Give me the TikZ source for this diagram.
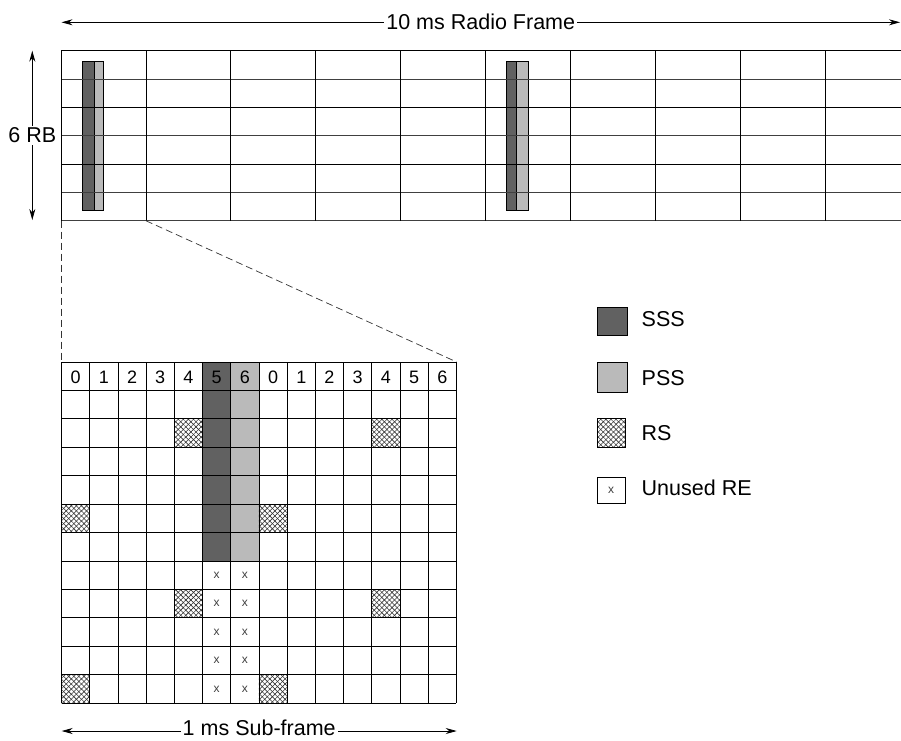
\documentclass[tikz,border=0pt]{standalone}
\usepackage{fontspec}
\setmainfont{Liberation Sans}
\usetikzlibrary{arrows.meta,patterns.meta}
\begin{document}
\begin{tikzpicture}[x=1pt,y=-1pt,
  gridline/.style={line width=0.8pt, black},
  softline/.style={line width=0.7pt, black!75},
  sss/.style={fill=black!62, draw=black, line width=0.6pt},
  pss/.style={fill=black!27, draw=black, line width=0.6pt},
  hatchA/.style={pattern={Lines[angle=45,distance=3.6pt,line width=0.6pt]}, pattern color=black!80},
  hatchB/.style={pattern={Lines[angle=-45,distance=3.6pt,line width=0.6pt]}, pattern color=black!80},
  lbl/.style={font=\fontsize{21.5}{24}\selectfont, inner xsep=2pt, inner ysep=0pt, fill=white},
  leg/.style={font=\fontsize{21.5}{24}\selectfont, inner sep=0pt},
  dig/.style={font=\fontsize{18}{20}\selectfont, inner sep=0pt},
  unused/.style={font=\fontsize{12}{12}\selectfont, text=black!75, inner sep=0pt},
  dim/.style={line width=0.8pt, {Stealth[length=11pt,width=6pt]}-{Stealth[length=11pt,width=6pt]}},
  zoomline/.style={dash pattern=on 7pt off 4pt, line width=0.7pt, black!80}
]
\useasboundingbox (0,0) rectangle (901,740);

% ---------- upper grid (radio frame) ----------
\draw[sss] (82.3,61) rectangle (94,210);
\draw[pss] (94,61) rectangle (103.7,210);
\draw[sss] (506,61) rectangle (516.7,210);
\draw[pss] (516.7,61) rectangle (528.3,210);
\foreach \i in {0,2,4}
  \draw[gridline] (61,50.7+\i*28.33) -- (901,50.7+\i*28.33);
\foreach \i in {1,3,5,6}
  \draw[softline] (61,50.7+\i*28.33) -- (901,50.7+\i*28.33);
\foreach \i in {0,...,9}
  \draw[gridline] (61+\i*84.9,50.7) -- (61+\i*84.9,220.7);

% ---------- dimension arrows ----------
\coordinate (rfL) at (61.5,22.3);
\coordinate (rfR) at (900,22.3);
\draw[dim] (rfL) -- node[lbl] (rfLabel) {10 ms Radio Frame} (rfR);

\coordinate (rbT) at (32.3,50.7);
\coordinate (rbB) at (32.3,220);
\draw[dim] (rbT) -- node[lbl, inner xsep=1pt, inner ysep=2pt] (rbLabel) {6 RB} (rbB);

\coordinate (sfL) at (61.7,731);
\coordinate (sfR) at (456.7,731);
\draw[dim] (sfL) -- node[lbl, yshift=3.5pt] (sfLabel) {1 ms Sub-frame} (sfR);

% ---------- zoom lines ----------
\coordinate (zA) at (61,220.7);
\coordinate (zB) at (61,362);
\coordinate (zC) at (145.9,220.7);
\coordinate (zD) at (456.7,362);
\draw[zoomline] (zA) -- (zB);
\draw[zoomline] (zC) -- (zD);

% ---------- lower grid (sub-frame) ----------
\fill[black!62] (61.5+5*28.21,362) rectangle (61.5+6*28.21,362+7*28.43);
\fill[black!27] (61.5+6*28.21,362) rectangle (61.5+7*28.21,362+7*28.43);
\foreach \c/\r in {4/2,11/2,0/5,7/5,4/8,11/8,0/11,7/11}{
  \fill[hatchA] (61.5+\c*28.21,362+\r*28.43) rectangle ++(28.21,28.43);
  \fill[hatchB] (61.5+\c*28.21,362+\r*28.43) rectangle ++(28.21,28.43);
}
\foreach \c in {5,6}
  \foreach \r in {7,...,11}
    \node[unused] (u\c-\r) at (61.5+\c*28.21+14.1,362+\r*28.43+14.2) {x};
\foreach \i in {0,...,14}
  \draw[gridline] (61.5+\i*28.21,362) -- (61.5+\i*28.21,703.2);
\foreach \j in {0,...,12}
  \draw[gridline] (61.5,362+\j*28.43) -- (456.44,362+\j*28.43);
\foreach \c in {0,...,13}{
  \pgfmathtruncatemacro{\d}{mod(\c,7)}
  \node[dig] (h\c) at (61.5+\c*28.21+14.1,377) {\d};
}

% ---------- legend ----------
\draw[sss] (597,307) rectangle (627,335);
\draw[pss] (597,362) rectangle (627,392);
\fill[hatchA] (597,418) rectangle (625,447);
\fill[hatchB] (597,418) rectangle (625,447);
\draw[line width=0.6pt] (597,418) rectangle (625,447);
\draw[line width=0.6pt] (597,477) rectangle (625,503);
\node[unused] (kx) at (611,490) {x};
\node[leg, anchor=base west] (kSSS) at (641.5,326) {SSS};
\node[leg, anchor=base west] (kPSS) at (641.5,385) {PSS};
\node[leg, anchor=base west] (kRS) at (641.5,440) {RS};
\node[leg, anchor=base west] (kRE) at (641.5,495) {Unused RE};
\end{tikzpicture}
\end{document}
